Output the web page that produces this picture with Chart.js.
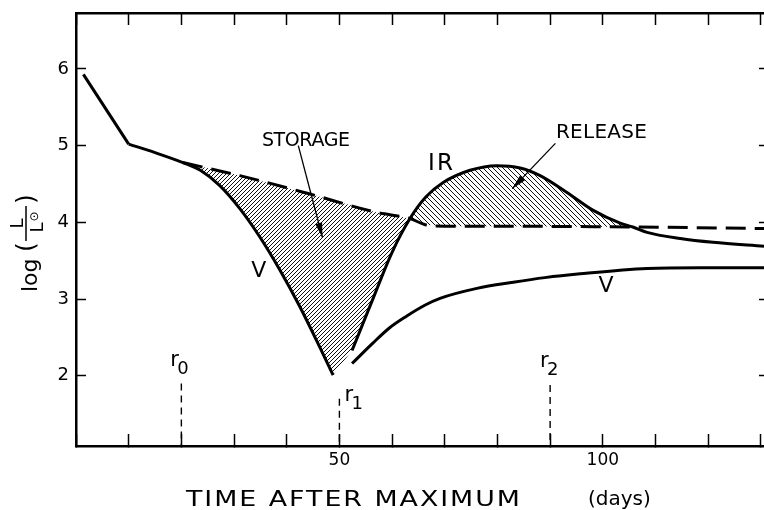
<!DOCTYPE html>
<html>
<head>
<meta charset="utf-8">
<style>
  html, body { margin: 0; padding: 0; background: #fff; }
  canvas { display: block; }
</style>
<script src="https://cdn.jsdelivr.net/npm/chart.js@4.4.1/dist/chart.umd.min.js"></script>
</head>
<body>
<canvas id="lightCurve" width="764" height="510"></canvas>
<script>
// days after maximum and log(L/Lsun)
const vDays = [1.4, 10, 15, 20.3, 23.6, 27.3, 31.1, 34.9, 38.7, 42.5, 46.3, 48.8];
const vLum  = [5.93, 5.02, 4.91, 4.78, 4.68, 4.48, 4.18, 3.81, 3.38, 2.90, 2.37, 2.01];

const irDays = [52.4, 56.4, 60.0, 63.4, 66.4, 69.7, 74.8, 79.9, 84.3, 88.1, 93.2, 98.1, 103.3, 105.7, 108.4, 114.7, 120.9, 130.6];
const irLum  = [2.33, 3.01, 3.61, 4.05, 4.33, 4.52, 4.68, 4.74, 4.71, 4.61, 4.39, 4.16, 3.99, 3.94, 3.87, 3.79, 3.74, 3.69];

const v2Days = [52.4, 56.4, 59.6, 62.8, 66.2, 69.1, 76.1, 83.0, 89.0, 95.7, 108.4, 118.5, 130.6];
const v2Lum  = [2.16, 2.43, 2.63, 2.78, 2.92, 3.01, 3.14, 3.22, 3.28, 3.33, 3.40, 3.41, 3.41];

// dashed curve (luminosity without storage)
const noStoreDays = [20.3, 31.1, 43.9, 57.1, 63.4, 66.3, 70.0, 80.5, 105.7, 130.6];
const noStoreLum  = [4.78, 4.61, 4.38, 4.13, 4.05, 3.97, 3.95, 3.95, 3.94, 3.92];

// r0, r1, r2 markers
const rDays = [20, 50, 90];
const rTops = [1.90, 1.70, 1.88];
const rNames = ['0', '1', '2'];

const xTickLabels = [50, 100];
const yTickLabels = [2, 3, 4, 5, 6];

const X_MIN = 0, X_MAX = 130.6, Y_MIN = 1.085, Y_MAX = 6.73;

function pts(days, lum) {
    return days.map((d, i) => ({ x: d, y: lum[i] }));
}
function between(days, lum, from, to) {
    return pts(days, lum).filter(p => p.x >= from && p.x <= to);
}

// hatch patterns for the shaded areas
function hatch(size, rising) {
    const c = document.createElement('canvas');
    c.width = c.height = size;
    const g = c.getContext('2d');
    g.strokeStyle = '#111';
    g.lineWidth = 1;
    g.beginPath();
    if (rising) {
        g.moveTo(0, size); g.lineTo(size, 0);
        g.moveTo(-1, 1); g.lineTo(1, -1);
        g.moveTo(size - 1, size + 1); g.lineTo(size + 1, size - 1);
    } else {
        g.moveTo(0, 0); g.lineTo(size, size);
        g.moveTo(size - 1, -1); g.lineTo(size + 1, 1);
        g.moveTo(-1, size - 1); g.lineTo(1, size + 1);
    }
    g.stroke();
    return g.createPattern(c, 'repeat');
}

// storage area: V going down, IR going up, back along the dashed curve
const storageShape = between(vDays, vLum, 20.3, 49)
    .concat(between(irDays, irLum, 52.4, 63.4))
    .concat(between(noStoreDays, noStoreLum, 20.3, 63.4).reverse());
// release area: IR above the dashed curve
const releaseShape = between(irDays, irLum, 63.4, 105.7)
    .concat(between(noStoreDays, noStoreLum, 63.4, 105.7).reverse());

const curve = {
    borderColor: '#000',
    borderWidth: 3,
    pointRadius: 0,
    fill: false,
    cubicInterpolationMode: 'monotone',
    order: 0
};

const datasets = [
    Object.assign({}, curve, { label: 'V', data: pts(vDays.slice(0, 2), vLum.slice(0, 2)), tension: 0, cubicInterpolationMode: 'default' }),
    Object.assign({}, curve, { label: 'V', data: pts(vDays.slice(1), vLum.slice(1)) }),
    Object.assign({}, curve, { label: 'IR', data: pts(irDays, irLum) }),
    Object.assign({}, curve, { label: 'V', data: pts(v2Days, v2Lum) }),
    Object.assign({}, curve, { label: 'no storage', data: pts(noStoreDays, noStoreLum), borderDash: [20, 9], borderCapStyle: 'butt' }),
    {
        label: 'storage', data: storageShape, fill: 'shape', tension: 0,
        borderWidth: 0, pointRadius: 0, backgroundColor: hatch(4, true), order: 5
    },
    {
        label: 'release', data: releaseShape, fill: 'shape', tension: 0,
        borderWidth: 0, pointRadius: 0, backgroundColor: hatch(5, false), order: 5
    }
];
rDays.forEach((d, i) => {
    datasets.push({
        label: 'r' + rNames[i],
        data: [{ x: d, y: rTops[i] }, { x: d, y: Y_MIN }],
        borderColor: '#000', borderWidth: 1.4, borderDash: [7, 5],
        pointRadius: 0, fill: false, order: 1
    });
});

// words inside the plot: left edge (days) and baseline (log L), width in px
const notes = [
    { text: 'STORAGE', x: 35.3, y: 4.99, size: 19, width: 88 },
    { text: 'IR', x: 66.8, y: 4.68, size: 23, width: 25 },
    { text: 'RELEASE', x: 91.1, y: 5.10, size: 20, width: 91 }
];
const vNotes = [
    { text: 'V', x: 34.7, y: 3.36 },
    { text: 'V', x: 100.6, y: 3.17 }
];
const arrows = [
    { from: [42.2, 5.0], to: [46.8, 3.80] },
    { from: [91.0, 5.03], to: [82.8, 4.44] }
];
// r label anchors: pixel offset of the "r" from its marker line, baseline in data units
const rLabels = [
    { dx: -11, y: 2.13 },
    { dx: 5, y: 1.67 },
    { dx: -10, y: 2.12 }
];

function drawArrow(ctx, x1, y1, x2, y2) {
    ctx.beginPath();
    ctx.moveTo(x1, y1);
    ctx.lineTo(x2, y2);
    ctx.lineWidth = 1.3;
    ctx.stroke();
    const a = Math.atan2(y2 - y1, x2 - x1), L = 15, W = 3.5;
    ctx.beginPath();
    ctx.moveTo(x2, y2);
    ctx.lineTo(x2 - L * Math.cos(a) + W * Math.sin(a), y2 - L * Math.sin(a) - W * Math.cos(a));
    ctx.lineTo(x2 - L * Math.cos(a) - W * Math.sin(a), y2 - L * Math.sin(a) + W * Math.cos(a));
    ctx.closePath();
    ctx.fill();
}

// draw s starting at x with total width w; stretch widens the glyphs themselves
function fitText(ctx, s, x, y, w, stretch) {
    const k = stretch || 1;
    ctx.save();
    ctx.translate(x, y);
    ctx.scale(k, 1);
    ctx.letterSpacing = '0px';
    const m = ctx.measureText(s).width;
    ctx.letterSpacing = ((w / k - m) / (s.length - 1)) + 'px';
    ctx.fillText(s, 0, 0);
    ctx.restore();
}

const FONT = '"DejaVu Sans", sans-serif';

const figureText = {
    id: 'figureText',
    beforeDraw(chart) {
        const ctx = chart.ctx;
        ctx.save();
        ctx.fillStyle = '#fff';
        ctx.fillRect(0, 0, chart.width, chart.height);
        ctx.restore();
    },
    afterDraw(chart) {
        const ctx = chart.ctx;
        const sx = chart.scales.x, sy = chart.scales.y;
        ctx.save();
        ctx.fillStyle = '#000';
        ctx.strokeStyle = '#000';

        // labels inside the plot
        ctx.textAlign = 'left';
        ctx.textBaseline = 'alphabetic';
        notes.forEach(n => {
            ctx.font = n.size + 'px ' + FONT;
            fitText(ctx, n.text, sx.getPixelForValue(n.x), sy.getPixelForValue(n.y), n.width);
        });
        ctx.textAlign = 'center';
        ctx.textBaseline = 'middle';
        ctx.font = '22px ' + FONT;
        vNotes.forEach(n => ctx.fillText(n.text, sx.getPixelForValue(n.x), sy.getPixelForValue(n.y)));
        arrows.forEach(a => drawArrow(ctx,
            sx.getPixelForValue(a.from[0]), sy.getPixelForValue(a.from[1]),
            sx.getPixelForValue(a.to[0]), sy.getPixelForValue(a.to[1])));

        // r0 r1 r2
        ctx.textAlign = 'left';
        ctx.textBaseline = 'alphabetic';
        rDays.forEach((d, i) => {
            const px = sx.getPixelForValue(d) + rLabels[i].dx;
            const py = sy.getPixelForValue(rLabels[i].y);
            ctx.font = '21px ' + FONT;
            ctx.fillText('r', px, py);
            ctx.font = '18px ' + FONT;
            ctx.fillText(rNames[i], px + 7, py + 8);
        });

        // x axis title
        ctx.font = '22px ' + FONT;
        fitText(ctx, 'TIME AFTER MAXIMUM', 186, 506, 334, 1.22);
        ctx.font = '20px ' + FONT;
        ctx.fillText('(days)', 588, 505);

        // y axis title: log (L / L⊙), rotated
        ctx.translate(37, 292);
        ctx.rotate(-Math.PI / 2);
        ctx.font = '22px ' + FONT;
        ctx.fillText('log', 0, 0);
        ctx.font = '25px ' + FONT;
        ctx.fillText('(', 40, -3);
        ctx.fillText(')', 88, -3);
        const u0 = 51, u1 = 86, uc = (u0 + u1) / 2;
        ctx.lineWidth = 1.5;
        ctx.beginPath();
        ctx.moveTo(u0, -11);
        ctx.lineTo(u1, -11);
        ctx.stroke();
        ctx.font = '18px ' + FONT;
        ctx.textAlign = 'center';
        ctx.fillText('L', uc, -14);
        ctx.fillText('L', uc - 4, 6);
        ctx.font = '12px ' + FONT;
        ctx.fillText('\u2299', uc + 7, 1);
        ctx.restore();
    }
};

const axisLine = { display: true, color: '#000', width: 2.5 };

function fixSize(prop, value) {
    return s => {
        s[prop] = value;
        s.paddingLeft = s.paddingRight = s.paddingTop = s.paddingBottom = 0;
    };
}

new Chart(document.getElementById('lightCurve'), {
    type: 'line',
    data: { datasets: datasets },
    options: {
        responsive: false,
        animation: false,
        events: [],
        layout: { padding: 0 },
        plugins: {
            legend: { display: false },
            tooltip: { enabled: false }
        },
        scales: {
            x: {
                type: 'linear', position: 'bottom', min: X_MIN, max: X_MAX,
                border: axisLine,
                grid: { drawOnChartArea: false, tickLength: -12, tickWidth: 1.5, tickColor: '#000' },
                ticks: {
                    stepSize: 10, includeBounds: false, autoSkip: false, maxRotation: 0,
                    padding: 16, color: '#000', font: { family: FONT, size: 17 },
                    callback: v => xTickLabels.includes(v) ? String(v) : ''
                },
                afterFit: fixSize('height', 64)
            },
            xTop: {
                type: 'linear', position: 'top', min: X_MIN, max: X_MAX,
                border: axisLine,
                grid: { drawOnChartArea: false, tickLength: -12, tickWidth: 1.5, tickColor: '#000' },
                ticks: { display: false, stepSize: 10, includeBounds: false, autoSkip: false },
                afterFit: fixSize('height', 13)
            },
            y: {
                type: 'linear', position: 'left', min: Y_MIN, max: Y_MAX,
                border: axisLine,
                grid: { drawOnChartArea: false, tickLength: -10, tickWidth: 1.5, tickColor: '#000' },
                ticks: {
                    stepSize: 1, includeBounds: false, padding: 17, color: '#000',
                    font: { family: FONT, size: 18 },
                    callback: v => yTickLabels.includes(v) ? String(v) : ''
                },
                afterFit: fixSize('width', 76)
            },
            yRight: {
                type: 'linear', position: 'right', min: Y_MIN, max: Y_MAX,
                border: { display: false },
                grid: { drawOnChartArea: false, tickLength: -5, tickWidth: 1.5, tickColor: '#000' },
                ticks: { display: false, stepSize: 1, includeBounds: false },
                afterFit: fixSize('width', 0)
            }
        }
    },
    plugins: [figureText]
});
</script>
</body>
</html>
